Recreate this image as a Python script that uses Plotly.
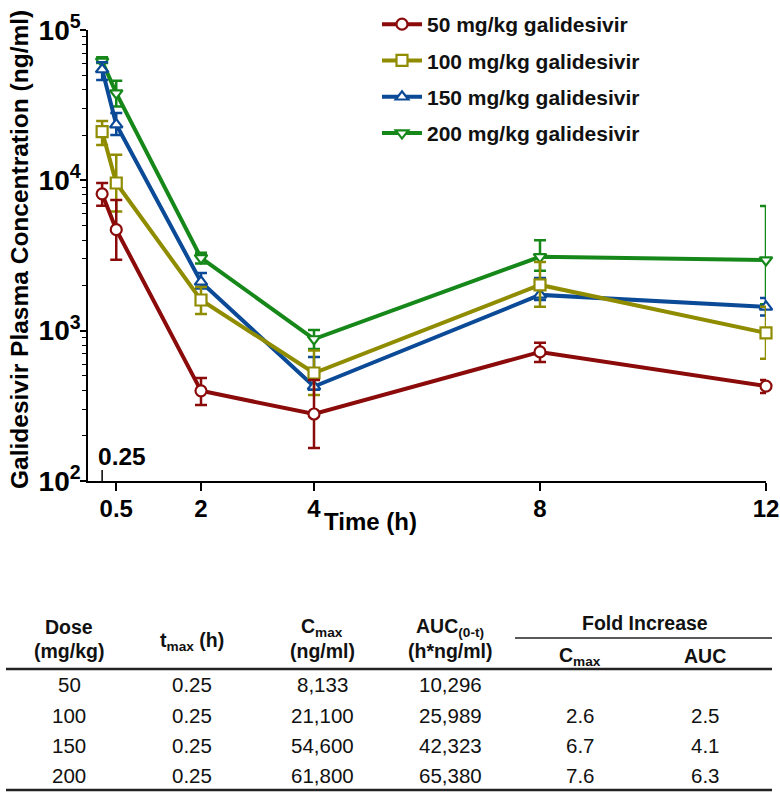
import plotly.graph_objects as go

# ---------------- data ----------------
time_h = [0.25, 0.5, 2, 4, 8, 12]

series_names = ["50 mg/kg galidesivir", "100 mg/kg galidesivir",
                "150 mg/kg galidesivir", "200 mg/kg galidesivir"]
series_colors = ["#8B0A0A", "#8F8C00", "#0B4A96", "#16881A"]
series_symbols = ["circle", "square", "triangle-up", "triangle-down"]

conc_50 = [8133, 4700, 398, 279, 722, 428]
conc_100 = [21100, 9600, 1600, 523, 2015, 966]
conc_150 = [54600, 23500, 2110, 425, 1730, 1440]
conc_200 = [61800, 38000, 3050, 880, 3100, 2950]

err_up_50 = [1470, 2700, 86, 190, 108, 42]
err_dn_50 = [1360, 1740, 78, 113, 102, 43]
err_up_100 = [3700, 5200, 350, 215, 845, 474]
err_dn_100 = [3900, 3400, 310, 150, 575, 316]
err_up_150 = [6400, 4500, 310, 243, 510, 210]
err_dn_150 = [8100, 3500, 200, 20, 130, 180]
err_up_200 = [4000, 8000, 250, 130, 900, 3810]
err_dn_200 = [1500, 7000, 250, 125, 600, 1450]

y_tick_vals = [100, 1000, 10000, 100000]
y_tick_text = ["10<sup>2</sup>", "10<sup>3</sup>", "10<sup>4</sup>", "10<sup>5</sup>"]
y_minor_vals = [m * d for d in (100, 1000, 10000) for m in range(2, 10)]
x_tick_vals = [0.5, 2, 4, 8, 12]
x_tick_text = ["0.5", "2", "4", "8", "12"]

# table data
tbl_dose = ["50", "100", "150", "200"]
tbl_tmax = ["0.25", "0.25", "0.25", "0.25"]
tbl_cmax = ["8,133", "21,100", "54,600", "61,800"]
tbl_auc = ["10,296", "25,989", "42,323", "65,380"]
tbl_fold_cmax = ["", "2.6", "6.7", "7.6"]
tbl_fold_auc = ["", "2.5", "4.1", "6.3"]

# ---------------- figure ----------------
W, H = 780, 794
ML, MR, MT, MB = 88, 14, 30, 313
PW, PH = W - ML - MR, H - MT - MB


def px(xp):
    return (xp - ML) / PW


def py(yp):
    return (H - MB - yp) / PH


FONT = "Liberation Sans, Arial, sans-serif"

fig = go.Figure()
concs = [conc_50, conc_100, conc_150, conc_200]
ups = [err_up_50, err_up_100, err_up_150, err_up_200]
dns = [err_dn_50, err_dn_100, err_dn_150, err_dn_200]

for i in [3, 2, 1, 0]:
    fig.add_trace(go.Scatter(
        x=time_h, y=concs[i], name=series_names[i], mode="lines+markers",
        legendgroup=series_names[i], legendrank=i + 1,
        line=dict(color=series_colors[i], width=4),
        marker=dict(symbol=series_symbols[i], size=11, color="white",
                    line=dict(color=series_colors[i], width=2.2)),
        error_y=dict(type="data", array=ups[i], arrayminus=dns[i],
                     color=series_colors[i], thickness=2.5, width=6, visible=True),
        cliponaxis=False,
    ))

fig.update_layout(
    width=W, height=H,
    margin=dict(l=ML, r=MR, t=MT, b=MB, pad=0, autoexpand=False),
    paper_bgcolor="white", plot_bgcolor="white",
    font=dict(family=FONT, color="black"),
    showlegend=True,
    legend=dict(
        x=px(377), y=py(4), xanchor="left", yanchor="top",
        traceorder="grouped", tracegroupgap=6,
        font=dict(family=FONT, size=21, color="#111", weight="bold"),
        bgcolor="rgba(0,0,0,0)", itemwidth=40,
    ),
    xaxis=dict(
        range=[0, 12], showgrid=False, zeroline=False, automargin=False,
        showline=True, linecolor="black", linewidth=1.5,
        ticks="outside", ticklen=8, tickwidth=1.5, tickcolor="black",
        tickvals=x_tick_vals, ticktext=x_tick_text, ticklabelstandoff=-3,
        tickfont=dict(family=FONT, size=24, color="black", weight="bold"),
    ),
    yaxis=dict(
        type="log", range=[2, 5], showgrid=False, zeroline=False, automargin=False,
        showline=True, linecolor="black", linewidth=1.5,
        ticks="outside", ticklen=6, tickwidth=1.5, tickcolor="black",
        tickvals=y_tick_vals, ticktext=y_tick_text, ticklabelstandoff=-6,
        tickfont=dict(family=FONT, size=28, color="black", weight="bold"),
        minor=dict(tickvals=y_minor_vals, ticks="outside", ticklen=4,
                   tickwidth=1.2, tickcolor="black"),
    ),
)

annotations = []
shapes = []

# axis titles
annotations.append(dict(
    text="<b>Galidesivir Plasma Concentration (ng/ml)</b>", textangle=-90,
    xref="paper", yref="paper", x=px(19), y=py(250), showarrow=False,
    xanchor="center", yanchor="middle", font=dict(family=FONT, size=24.5, color="black")))
annotations.append(dict(
    text="<b>Time (h)</b>", xref="paper", yref="paper", x=px(370), y=py(521),
    showarrow=False, xanchor="center", yanchor="middle",
    font=dict(family=FONT, size=24, color="black")))

# 0.25 label and inside tick
annotations.append(dict(
    text="<b>0.25</b>", xref="paper", yref="paper", x=px(96), y=py(456),
    showarrow=False, xanchor="left", yanchor="middle",
    font=dict(family=FONT, size=24.5, color="black")))
shapes.append(dict(type="line", xref="x", yref="paper", x0=0.25, x1=0.25,
                   y0=0, y1=py(470), line=dict(color="black", width=1.5)))

# ---------------- table ----------------
col_x = [69, 192, 322, 450, 580, 705]
TFS = 20.5


def tann(text, xp, yp, size=TFS, bold=False):
    t = f"<b>{text}</b>" if bold else text
    annotations.append(dict(text=t, xref="paper", yref="paper", x=px(xp), y=py(yp),
                            showarrow=False, xanchor="center", yanchor="middle",
                            font=dict(family=FONT, size=size, color="#111")))


tann("Dose", col_x[0], 627, size=19.5, bold=True)
tann("(mg/kg)", col_x[0], 651, size=19.5, bold=True)
tann("t<sub>max</sub> (h)", col_x[1], 641, size=19.5, bold=True)
tann("C<sub>max</sub>", col_x[2], 627, size=19.5, bold=True)
tann("(ng/ml)", col_x[2], 651, size=19.5, bold=True)
tann("AUC<sub>(0-t)</sub>", col_x[3], 627, size=19.5, bold=True)
tann("(h*ng/ml)", col_x[3], 651, size=19.5, bold=True)
tann("Fold Increase", 645, 623, size=19.5, bold=True)
tann("C<sub>max</sub>", col_x[4], 656, size=19.5, bold=True)
tann("AUC", col_x[5], 656, size=19.5, bold=True)

row_y = [684, 715, 745, 775]
cols = [tbl_dose, tbl_tmax, tbl_cmax, tbl_auc, tbl_fold_cmax, tbl_fold_auc]
for ci, col in enumerate(cols):
    for ri, val in enumerate(col):
        if val:
            tann(val, col_x[ci], row_y[ri])

# table rules
shapes.append(dict(type="line", xref="paper", yref="paper", x0=px(515), x1=px(772),
                   y0=py(638), y1=py(638), line=dict(color="#222", width=1.5)))
shapes.append(dict(type="line", xref="paper", yref="paper", x0=px(6), x1=px(772),
                   y0=py(669), y1=py(669), line=dict(color="#222", width=2.5)))
shapes.append(dict(type="line", xref="paper", yref="paper", x0=px(6), x1=px(772),
                   y0=py(790), y1=py(790), line=dict(color="#222", width=2.5)))

fig.update_layout(annotations=annotations, shapes=shapes)

fig.write_html("out.html", config={"displayModeBar": False},
               post_script="document.body.style.margin='0';document.body.style.overflow='hidden';")
